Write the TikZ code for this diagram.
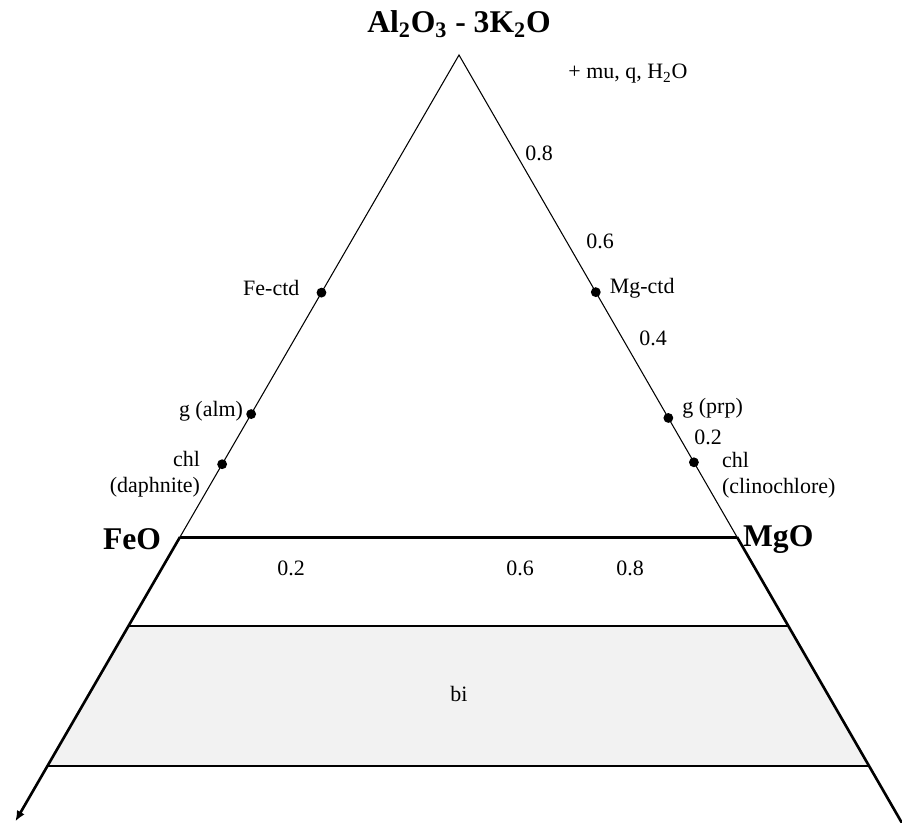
\documentclass[tikz,border=0pt]{standalone}
\usepackage{fontspec}
\setmainfont{Liberation Serif}
\usetikzlibrary{arrows.meta,calc,positioning}
\definecolor{bifill}{HTML}{F2F2F2}

\begin{document}
\begin{tikzpicture}[x=0.02cm,y=-0.02cm,
  lbl/.style={font=\fontsize{12.5}{15}\selectfont,inner sep=1pt},
  corner/.style={font=\fontsize{18}{20}\selectfont\bfseries,inner sep=1pt},
  side/.style={line width=0.6pt},
  field/.style={line width=1.5pt},
  phase/.style={fill=black}]
  \useasboundingbox (0,0) rectangle (902,822);

  % ternary corners
  \coordinate (apex) at (459,55);
  \coordinate (feo) at (180,537);
  \coordinate (mgo) at (737,537);
  \coordinate (lt1) at ($(apex)!1.1846!(feo)$);
  \coordinate (rt1) at ($(apex)!1.1846!(mgo)$);
  \coordinate (lt2) at ($(apex)!1.4751!(feo)$);
  \coordinate (rt2) at ($(apex)!1.4751!(mgo)$);
  \coordinate (lend) at ($(apex)!1.59!(feo)$);
  \coordinate (rend) at ($(apex)!1.64!(mgo)$);

  % biotite field
  \fill[bifill] (lt1) -- (rt1) -- (rt2) -- (lt2) -- cycle;
  \node[lbl] (bi) at (459,694) {bi};

  % AFM triangle and projection lines
  \draw[side] (feo) -- (apex) -- (mgo);
  \draw[line width=1.7pt] (feo) -- (mgo);
  \draw[field] (lt1) -- (rt1);
  \draw[field] (lt2) -- (rt2);
  \draw[field,-{Latex[length=6pt,width=5pt]}] (feo) -- (lend);
  \draw[field,-{Latex[length=6pt,width=5pt]}] (mgo) -- (rend);

  % corner labels
  \node[corner] (toplbl) at (459,24) {Al\textsubscript{2}O\textsubscript{3} - 3K\textsubscript{2}O};
  \node[corner] (feolbl) at (132,539) {FeO};
  \node[corner,anchor=west] (mgolbl) at (741,540) {MgO};
  \node[lbl] (extra) at (628,74) {+ mu, q, H\textsubscript{2}O};

  % phases on the Fe side
  \coordinate (fectd) at ($(apex)!0.493!(feo)$);
  \coordinate (alm) at ($(apex)!0.745!(feo)$);
  \coordinate (daph) at ($(apex)!0.849!(feo)$);
  \foreach \p in {fectd,alm,daph}
    \fill[phase] (\p) circle (2.8pt);
  \node[lbl,anchor=east] (fectdlbl) at ($(fectd)+(-20,-5)$) {Fe-ctd};
  \node[lbl,anchor=east] (almlbl) at ($(alm)+(-6,-3)$) {g (alm)};
  \node[lbl,anchor=east,align=right] (daphlbl) at ($(daph)+(-20,10)$) {chl\\(daphnite)};

  % phases on the Mg side
  \coordinate (mgctd) at ($(apex)!0.492!(mgo)$);
  \coordinate (prp) at ($(apex)!0.753!(mgo)$);
  \coordinate (clin) at ($(apex)!0.845!(mgo)$);
  \foreach \p in {mgctd,prp,clin}
    \fill[phase] (\p) circle (2.8pt);
  \node[lbl,anchor=west] (mgctdlbl) at ($(mgctd)+(12,-4)$) {Mg-ctd};
  \node[lbl,anchor=west] (prplbl) at ($(prp)+(12,-10)$) {g (prp)};
  \node[lbl,anchor=west,align=left] (clinlbl) at ($(clin)+(26,13)$) {chl\\(clinochlore)};

  % tick values
  \node[lbl] (r8) at (539,153) {0.8};
  \node[lbl] (r6) at (600,241) {0.6};
  \node[lbl] (r4) at (653,338) {0.4};
  \node[lbl] (r2) at (708,437) {0.2};
  \node[lbl] (b2) at (291,568) {0.2};
  \node[lbl] (b6) at (520,568) {0.6};
  \node[lbl] (b8) at (630,568) {0.8};
\end{tikzpicture}
\end{document}
